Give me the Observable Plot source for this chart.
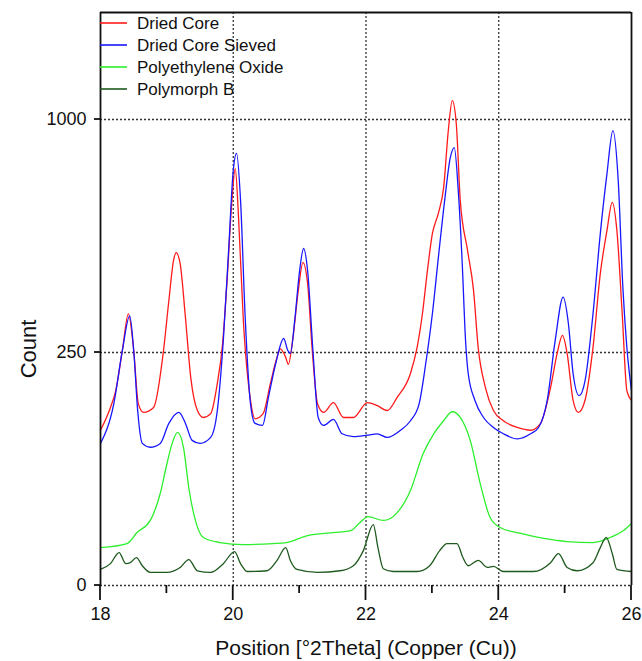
<!DOCTYPE html>
<html><head><meta charset="utf-8">
<script src="https://cdn.jsdelivr.net/npm/d3@7"></script>
<script src="https://cdn.jsdelivr.net/npm/@observablehq/plot@0.6"></script>
<style>body{margin:0;background:#fff;}</style>
</head><body><div id="chart"></div>
<script>
const seriesNames = ["Dried Core", "Dried Core Sieved", "Polyethylene Oxide", "Polymorph B"];
const seriesColors = ["#ff1a1a", "#1717ff", "#2cef2c", "#1f5a1f"];

const driedCore = [[18.00,111],[18.15,146],[18.23,175],[18.33,255],[18.42,340],[18.50,255],[18.57,152],[18.65,138],[18.80,146],[18.95,255],[19.03,374],[19.10,486],[19.14,510],[19.20,477],[19.28,330],[19.36,199],[19.46,141],[19.55,130],[19.66,136],[19.76,188],[19.84,270],[19.91,437],[19.98,683],[20.03,800],[20.08,623],[20.15,330],[20.26,158],[20.33,128],[20.45,136],[20.56,188],[20.66,240],[20.71,258],[20.79,240],[20.83,225],[20.90,283],[20.98,401],[21.05,480],[21.12,420],[21.19,255],[21.27,152],[21.36,138],[21.51,154],[21.66,130],[21.81,130],[22.02,154],[22.17,149],[22.32,141],[22.47,163],[22.67,207],[22.77,261],[22.85,340],[22.92,448],[23.00,570],[23.09,638],[23.17,730],[23.24,953],[23.30,1083],[23.36,983],[23.42,683],[23.53,517],[23.62,401],[23.69,261],[23.80,180],[23.92,141],[24.07,125],[24.28,115],[24.48,111],[24.63,121],[24.78,180],[24.88,248],[24.96,288],[25.03,248],[25.12,158],[25.20,138],[25.30,158],[25.42,261],[25.53,448],[25.63,580],[25.71,676],[25.78,580],[25.86,340],[25.93,175],[26.00,158]];

const driedCoreSieved = [[18.00,93],[18.20,152],[18.33,255],[18.44,335],[18.50,255],[18.56,141],[18.63,93],[18.75,88],[18.90,93],[19.03,121],[19.18,138],[19.28,121],[19.38,97],[19.50,93],[19.66,101],[19.76,141],[19.85,276],[19.93,517],[20.00,793],[20.05,860],[20.11,683],[20.18,330],[20.26,152],[20.33,121],[20.44,118],[20.53,163],[20.64,227],[20.76,281],[20.82,255],[20.86,248],[20.93,330],[21.00,457],[21.06,523],[21.12,457],[21.20,255],[21.28,130],[21.36,118],[21.51,127],[21.64,106],[21.81,102],[22.02,104],[22.17,106],[22.32,101],[22.52,111],[22.67,125],[22.80,152],[22.90,227],[23.00,340],[23.09,495],[23.19,693],[23.27,843],[23.33,883],[23.39,719],[23.45,477],[23.50,276],[23.54,207],[23.64,158],[23.77,130],[23.92,115],[24.07,106],[24.28,99],[24.48,106],[24.60,115],[24.73,158],[24.85,276],[24.97,383],[25.05,315],[25.12,207],[25.21,166],[25.30,193],[25.42,340],[25.53,570],[25.63,780],[25.72,953],[25.80,755],[25.87,409],[25.93,261],[26.00,175]];

const polyethyleneOxide = [[18.00,6.6],[18.40,8.1],[18.55,12.9],[18.75,19.5],[18.90,39],[19.00,68],[19.08,93],[19.16,108],[19.25,88],[19.33,44],[19.43,19.5],[19.55,10.6],[19.80,8.5],[20.15,7.7],[20.60,8.1],[20.80,8.5],[21.12,11.5],[21.51,12.9],[21.77,13.9],[21.91,18.3],[22.03,21.9],[22.26,19.5],[22.47,24.5],[22.67,41.6],[22.86,80],[23.02,106],[23.17,125],[23.30,139],[23.42,130],[23.57,97],[23.72,48],[23.87,21.3],[24.02,15.5],[24.33,12.5],[24.68,10.2],[25.03,8.9],[25.42,8.5],[25.68,10.6],[25.88,13.9],[26.00,17.7]];

const polymorphB = [[18.00,1.2],[18.15,2.2],[18.28,5.0],[18.38,2.2],[18.45,2.4],[18.54,3.6],[18.63,1.8],[18.75,0.8],[19.00,0.8],[19.20,1.5],[19.33,3.1],[19.46,1.0],[19.66,0.8],[19.85,2.2],[20.02,5.3],[20.11,2.2],[20.21,0.9],[20.51,1.0],[20.66,2.9],[20.79,6.6],[20.86,2.9],[20.96,1.2],[21.27,0.8],[21.61,1.0],[21.81,1.8],[21.96,5.6],[22.11,17.1],[22.18,6.6],[22.26,1.3],[22.41,0.9],[22.77,0.9],[22.96,1.8],[23.11,5.6],[23.22,8.1],[23.37,8.1],[23.46,3.6],[23.54,1.8],[23.69,2.9],[23.83,1.5],[23.92,1.7],[24.07,0.9],[24.52,0.9],[24.78,2.4],[24.90,4.7],[25.03,1.5],[25.18,1.0],[25.42,2.4],[25.53,6.6],[25.62,10.6],[25.71,4.7],[25.78,1.2],[26.00,0.9]];

const xTicks = [18, 20, 22, 24, 26];
const xMinorTicks = [19, 21, 23, 25];
const xGrid = [20, 22, 24];
const yTicks = [0, 250, 1000];
const xDomain = [18, 26];
const yMax = 1512;
const xLabel = "Position [°2Theta] (Copper (Cu))";
const yLabel = "Count";

const allSeries = [driedCore, driedCoreSieved, polyethyleneOxide, polymorphB];
const rows = [];
allSeries.forEach((s, i) => s.forEach(([x, y]) => rows.push({series: seriesNames[i], x, y})));

const font = "'Liberation Sans', Arial, sans-serif";

function legendMark(index, scales, values, dimensions) {
  const g = d3.create("svg:g").attr("text-anchor", "start");
  seriesNames.forEach((name, i) => {
    const y = dimensions.marginTop + 11 + 22 * i;
    g.append("line")
      .attr("x1", dimensions.marginLeft).attr("x2", dimensions.marginLeft + 27)
      .attr("y1", y).attr("y2", y)
      .attr("stroke", seriesColors[i]).attr("stroke-width", 1.6);
    g.append("text")
      .attr("x", dimensions.marginLeft + 37).attr("y", y).attr("dy", "0.35em")
      .attr("font-size", 17).attr("fill", "#111").attr("text-anchor", "start")
      .text(name);
  });
  return g.node();
}

// tick marks placed with the library's own x and y scales
function tickMarks(index, scales, values, dimensions) {
  const g = d3.create("svg:g").attr("stroke", "#111").attr("stroke-width", 1.8);
  const yb = dimensions.height - dimensions.marginBottom;
  xTicks.forEach(v => g.append("line").attr("x1", scales.x(v)).attr("x2", scales.x(v)).attr("y1", yb).attr("y2", yb + 15));
  xMinorTicks.forEach(v => g.append("line").attr("x1", scales.x(v)).attr("x2", scales.x(v)).attr("y1", yb).attr("y2", yb + 8));
  yTicks.forEach(v => g.append("line").attr("x1", dimensions.marginLeft - 6).attr("x2", dimensions.marginLeft).attr("y1", scales.y(v)).attr("y2", scales.y(v)));
  return g.node();
}

const grid = {stroke: "#333", strokeDasharray: "2,2", strokeWidth: 1.3, strokeOpacity: 1};

const plot = Plot.plot({
  width: 642, height: 661,
  marginLeft: 100, marginRight: 11, marginTop: 12, marginBottom: 76,
  style: {fontFamily: font, background: "#fff", color: "#111"},
  x: {domain: xDomain},
  y: {type: "sqrt", domain: [0, yMax]},
  color: {domain: seriesNames, range: seriesColors},
  marks: [
    Plot.ruleX(xGrid, grid),
    Plot.ruleY(yTicks, {...grid, strokeWidth: 1.6}),
    Plot.line(rows, {x: "x", y: "y", z: "series", stroke: "series", strokeWidth: 1.3, curve: "monotone-x"}),
    Plot.ruleX(xDomain, {y1: 0, y2: yMax, stroke: "#111", strokeWidth: 1.8}),
    Plot.ruleY([yMax], {stroke: "#111", strokeWidth: 1.8}),
    Plot.axisX({ticks: xTicks, tickSize: 0, tickPadding: 22, fontSize: 18, label: null}),
    Plot.axisY({ticks: yTicks, tickSize: 0, tickPadding: 14, fontSize: 18, label: null, tickFormat: d => String(d)}),
    tickMarks,
    Plot.text([xLabel], {frameAnchor: "bottom", dy: 63, lineAnchor: "middle", fontSize: 21, fill: "#111"}),
    Plot.text([yLabel], {frameAnchor: "left", dx: -72, dy: 50, rotate: -90, textAnchor: "middle", fontSize: 22, fill: "#111"}),
    legendMark
  ]
});
document.getElementById("chart").append(plot);
</script>
</body></html>
